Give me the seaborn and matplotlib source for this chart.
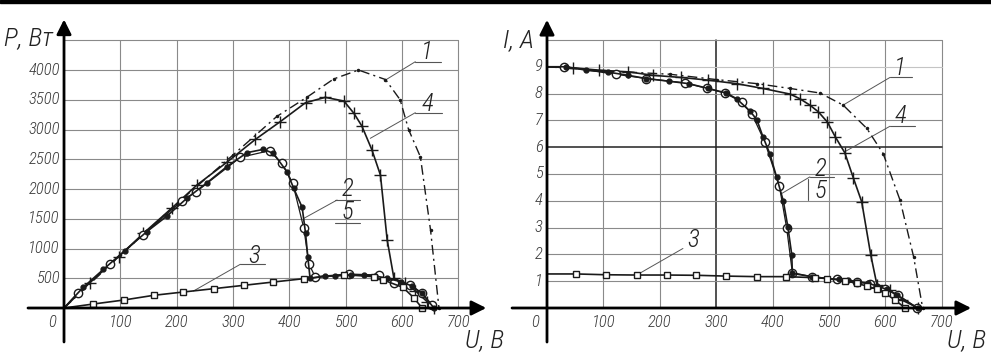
import numpy as np
import pandas as pd
import matplotlib
matplotlib.use("Agg")
import matplotlib.pyplot as plt
from matplotlib.patches import Rectangle
from matplotlib import font_manager
import seaborn as sns

# ---- data ----
# P-U curves (left panel)
u1_p = [0, 100, 200, 300, 378, 431, 479, 523, 571, 597, 612, 633, 651, 666]
p1 = [0, 885, 1750, 2570, 3220, 3540, 3850, 4000, 3840, 3500, 3000, 2540, 1310, 0]

u4_p = [0, 46, 97, 141, 191, 236, 289, 340, 384, 429, 464, 497, 515, 529, 547,
        562, 574, 586, 606, 624, 645, 657]
p4 = [0, 426, 863, 1255, 1675, 2067, 2448, 2835, 3132, 3451, 3541, 3479, 3272,
      3059, 2655, 2235, 1143, 499, 415, 291, 106, 0]

u2_p = [0, 34, 70, 108, 147, 183, 218, 254, 289, 325, 354, 372, 396, 408, 423,
        429, 433, 437, 464, 482, 509, 532, 553, 574, 598, 618, 636, 657]
p2 = [0, 347, 650, 964, 1283, 1546, 1843, 2106, 2375, 2611, 2667, 2599, 2291,
      2011, 1692, 1255, 863, 499, 538, 538, 555, 555, 538, 499, 443, 370, 246, 0]

u5_p = [0, 25, 82, 140, 209, 235, 313, 365, 387, 406, 426, 435, 446, 506, 559,
        586, 614, 636, 654]
p5 = [0, 258, 740, 1227, 1798, 1955, 2532, 2644, 2431, 2106, 1339, 739, 527,
      571, 555, 426, 387, 246, 50]

u3_p = [0, 52, 106, 159, 212, 266, 319, 372, 426, 497, 550, 567, 602, 621, 636]
p3 = [0, 67, 134, 213, 269, 325, 381, 437, 493, 560, 527, 471, 347, 174, 0]

# I-U curves (right panel)
u1_i = [0, 99, 218, 301, 372, 431, 484, 525, 567, 596, 626, 650, 666]
i1 = [9, 8.85, 8.72, 8.52, 8.37, 8.19, 8.02, 7.57, 6.7, 5.76, 4.02, 1.91, 0]

u4_i = [0, 46, 93, 144, 188, 238, 286, 336, 383, 431, 448, 466, 481, 497, 511,
        528, 543, 558, 574, 585, 608, 629, 658]
i4 = [9, 8.96, 8.87, 8.81, 8.68, 8.6, 8.5, 8.37, 8.19, 7.98, 7.81, 7.57, 7.32,
      6.94, 6.39, 5.79, 4.86, 3.96, 1.98, 0.86, 0.67, 0.3, 0]

u2_i = [0, 34, 70, 108, 144, 176, 216, 251, 286, 318, 336, 360, 372, 383, 395,
        407, 419, 427, 434, 435, 469, 496, 517, 534, 550, 570, 585, 602, 621, 657]
i2 = [9, 9, 8.87, 8.8, 8.68, 8.56, 8.46, 8.37, 8.19, 8.02, 7.81, 7.34, 7.03,
      6.38, 5.76, 4.89, 3.99, 3.03, 1.98, 1.29, 1.17, 1.1, 1.07, 1.04, 0.98,
      0.92, 0.82, 0.7, 0.48, 0]

u5_i = [0, 31, 122, 176, 244, 284, 315, 345, 363, 386, 412, 425, 435, 469, 514,
        549, 573, 599, 623, 656]
i5 = [9, 9, 8.72, 8.56, 8.4, 8.19, 8.02, 7.69, 7.25, 6.2, 4.55, 2.97, 1.32,
      1.17, 1.07, 0.98, 0.89, 0.72, 0.48, 0]

u3_i = [0, 52, 105, 159, 212, 265, 318, 372, 424, 475, 496, 528, 549, 567, 585,
        599, 617, 635]
i3 = [1.27, 1.27, 1.24, 1.23, 1.23, 1.22, 1.19, 1.17, 1.17, 1.13, 1.1, 1.02,
      0.92, 0.82, 0.7, 0.55, 0.3, 0]

u_ticks = [100, 200, 300, 400, 500, 600, 700]
p_ticks = [500, 1000, 1500, 2000, 2500, 3000, 3500, 4000]
i_ticks = [1, 2, 3, 4, 5, 6, 7, 8, 9]

sns.set_theme(style="white")
installed = {f.name for f in font_manager.fontManager.ttflist}
families = [f for f in ["Roboto Condensed", "Liberation Sans Narrow", "Open Sans Condensed",
                        "Roboto", "DejaVu Sans"] if f in installed]
plt.rcParams["font.family"] = families + ["DejaVu Sans"]
plt.rcParams["font.style"] = "italic"

fig = plt.figure(figsize=(9.91, 3.54), dpi=100)
fig.patches.append(Rectangle((0, 1 - 3 / 354), 1, 3 / 354, transform=fig.transFigure,
                             color="black", zorder=10))

ax1 = fig.add_axes([0, 0, 495 / 991, 1])
ax2 = fig.add_axes([495 / 991, 0, 496 / 991, 1])

ax1.set_xlim(-113.7, 765.5)
ax1.set_ylim(-773, 5177)
ax2.set_xlim(-92.2, 787.2)
ax2.set_ylim(-1.716, 11.49)

INK = "#1a1a1a"
GRID = "#8a8a8a"
TXT = "#3a3a3a"
off = matplotlib.transforms.ScaledTranslation


def frame(ax, ymax, yticks, xaxis_from, xtip, yfrom, ytip, thick_x=None, thick_y=None,
          light_y=None):
    # drawing grid as in the engineering sheet
    for x in u_ticks:
        lw, c = (1.1, "#222222") if x == thick_x else (0.8, GRID)
        ax.plot([x, x], [0, ymax], color=c, lw=lw, zorder=1)
    for y in yticks + [ymax]:
        lw, c = (1.1, "#222222") if y == thick_y else (0.8, GRID)
        if y == light_y:
            c = "#c4c4c4"
        ax.plot([0, 700], [y, y], color=c, lw=lw, zorder=1)
    # axes with arrows
    ax.annotate("", xy=(xtip, 0), xytext=(xaxis_from, 0),
                arrowprops=dict(arrowstyle="-|>", color="black", lw=2.0,
                                mutation_scale=22, shrinkA=0, shrinkB=0), zorder=5)
    ax.annotate("", xy=(0, ytip), xytext=(0, yfrom),
                arrowprops=dict(arrowstyle="-|>", color="black", lw=2.0,
                                mutation_scale=22, shrinkA=0, shrinkB=0), zorder=5)
    for x in u_ticks:
        ax.text(x, 0, str(x), ha="center", va="top", fontsize=12, color=TXT,
                fontweight="light",
                transform=ax.transData + off(0, -5 / 72, fig.dpi_scale_trans))
    for y in yticks:
        ax.text(0, y, str(y), ha="right", va="center", fontsize=12, color=TXT,
                fontweight="light",
                transform=ax.transData + off(-3 / 72, 0, fig.dpi_scale_trans))
    ax.text(0, 0, "0", ha="right", va="top", fontsize=12, color=TXT, fontweight="light",
            transform=ax.transData + off(-6 / 72, -5 / 72, fig.dpi_scale_trans))
    ax.axis("off")


frame(ax1, 4500, p_ticks, -64, 750, -571, 4850)
frame(ax2, 10, i_ticks, -62, 752, -1.27, 10.75, thick_x=300, thick_y=6, light_y=9)


def curve(ax, u, v, marker, ms, dashes=None, mfc=INK, lw=1.2, mew=1.0):
    df = pd.DataFrame({"U": u, "V": v})
    sns.lineplot(x="U", y="V", data=df, ax=ax, color=INK, lw=lw, estimator=None,
                 sort=False, marker=marker, markersize=ms, markerfacecolor=mfc,
                 markeredgecolor=INK, markeredgewidth=mew, markevery=slice(1, None),
                 zorder=3)
    if dashes is not None:
        ax.lines[-1].set_dashes(dashes)


for ax, data in [(ax1, [(u1_p, p1), (u4_p, p4), (u2_p, p2), (u5_p, p5), (u3_p, p3)]),
                 (ax2, [(u1_i, i1), (u4_i, i4), (u2_i, i2), (u5_i, i5), (u3_i, i3)])]:
    (a1, b1), (a4, b4), (a2, b2), (a5, b5), (a3, b3) = data
    curve(ax, a1, b1, ".", 3, dashes=(7, 3, 1.5, 3), lw=1.0)
    curve(ax, a4, b4, "+", 8, lw=1.2)
    curve(ax, a5, b5, "o", 6, mfc="white", lw=0.9)
    curve(ax, a2, b2, "o", 3.5, lw=1.2)
    curve(ax, a3, b3, "s", 5, mfc="white", lw=1.2)


def tag(ax, txt, pos, line, leader, fs=18):
    ax.text(pos[0], pos[1], txt, ha="center", va="center", fontsize=fs, color="#222222",
            fontweight="light")
    ax.plot(line[0], line[1], color="#555555", lw=0.8)
    ax.plot(leader[0], leader[1], color="#555555", lw=0.7)


# labels on the P-U panel
tag(ax1, "1", (645, 4300), ([624, 669], [4140, 4140]), ([571, 624], [3832, 4140]))
tag(ax1, "4", (645, 3430), ([624, 672], [3283, 3283]), ([544, 624], [2852, 3283]))
tag(ax1, "2", (503, 2000), ([482, 526], [1815, 1815]), ([426, 485], [1507, 1815]))
tag(ax1, "5", (504, 1610), ([482, 526], [1435, 1435]), ([482, 482], [1435, 1435]))
tag(ax1, "3", (337, 880), ([313, 357], [734, 734]), ([230, 313], [286, 734]))

# labels on the I-U panel
tag(ax2, "1", (626, 8.95), ([608, 647], [8.6, 8.6]), ([525, 608], [7.57, 8.6]))
tag(ax2, "4", (626, 7.15), ([608, 653], [6.78, 6.78]), ([528, 608], [5.83, 6.78]))
tag(ax2, "2", (484, 5.2), ([466, 508], [4.89, 4.89]), ([416, 466], [4.27, 4.89]))
tag(ax2, "5", (485, 4.35), ([463, 463], [4.83, 4.02]), ([463, 463], [4.83, 4.83]))
tag(ax2, "3", (259, 2.55), ([241, 241], [2.22, 2.22]), ([159, 241], [1.23, 2.22]))

# axis titles
for x, y, s in [(4, 45, "P, Вт"), (465, 347, "U, В"), (503, 47, "I, А"), (947, 347, "U, В")]:
    fig.text(x / 991, 1 - y / 354, s, fontsize=19, ha="left", va="baseline",
             color="#222222", fontweight="light")

fig.savefig("out.png", dpi=100)
